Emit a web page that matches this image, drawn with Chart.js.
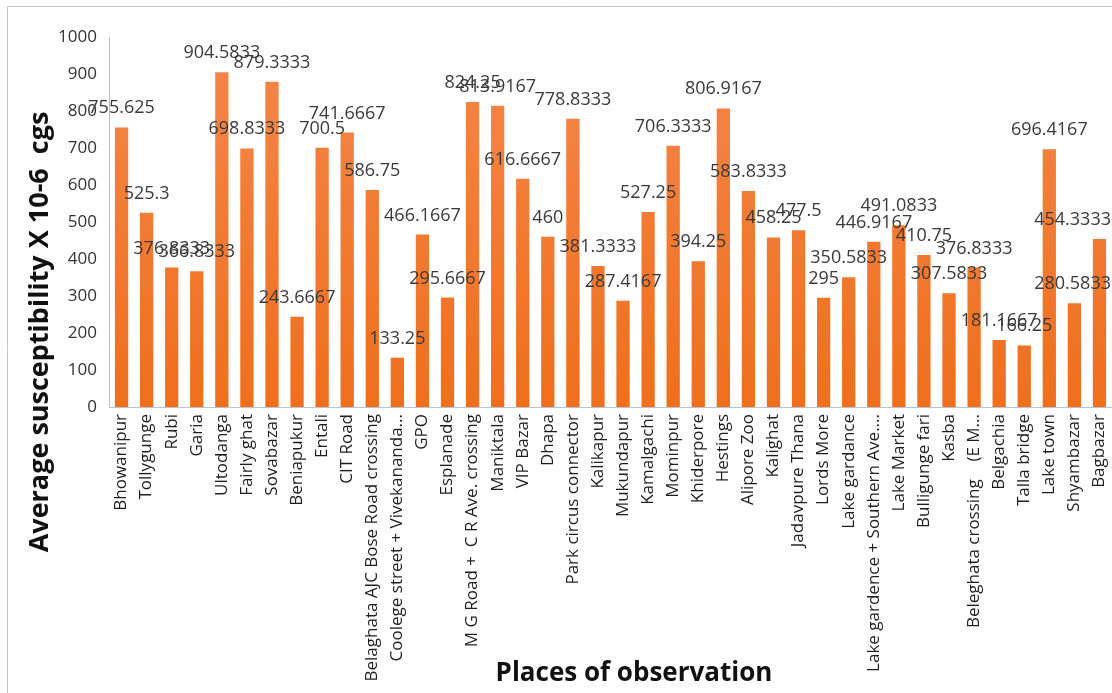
<!DOCTYPE html>
<html>
<head>
<meta charset="utf-8">
<title>Average susceptibility</title>
<script src="https://cdn.jsdelivr.net/npm/chart.js@4"></script>
<style>
  html, body { margin: 0; padding: 0; background: #fff; }
  #wrap { width: 1112px; height: 693px; position: relative; }
</style>
</head>
<body>
<div id="wrap"><canvas id="myChart"></canvas></div>
<script>
// places of observation and their average susceptibility (X 10-6 cgs)
var places = [
    'Bhowanipur', 'Tollygunge', 'Rubi', 'Garia', 'Ultodanga', 'Fairly ghat', 'Sovabazar',
    'Beniapukur', 'Entali', 'CIT Road', 'Belaghata AJC Bose Road crossing',
    'Coolege street + Vivekananda...', 'GPO', 'Esplanade', 'M G Road +  C R Ave. crossing',
    'Maniktala', 'VIP Bazar', 'Dhapa', 'Park circus connector', 'Kalikapur', 'Mukundapur',
    'Kamalgachi', 'Mominpur', 'Khiderpore', 'Hestings', 'Alipore Zoo', 'Kalighat',
    'Jadavpure Thana', 'Lords More', 'Lake gardance', 'Lake gardence + Southern Ave....',
    'Lake Market', 'Bulligunge fari', 'Kasba', 'Beleghata crossing    (E M...',
    'Belgachia', 'Talla bridge', 'Lake town', 'Shyambazar', 'Bagbazar'
];
var susceptibility = [
    755.625, 525.3, 376.8333, 366.8333, 904.5833, 698.8333, 879.3333,
    243.6667, 700.5, 741.6667, 586.75,
    133.25, 466.1667, 295.6667, 824.25,
    813.9167, 616.6667, 460, 778.8333, 381.3333, 287.4167,
    527.25, 706.3333, 394.25, 806.9167, 583.8333, 458.25,
    477.5, 295, 350.5833, 446.9167,
    491.0833, 410.75, 307.5833, 376.8333,
    181.1667, 166.25, 696.4167, 280.5833, 454.3333
];
var yTicks = [0, 100, 200, 300, 400, 500, 600, 700, 800, 900, 1000];

var FONT = "'Open Sans', 'Liberation Sans', sans-serif";

// value over each bar, axis titles and the outer frame
var extras = {
    id: 'extras',
    afterDatasetsDraw: function (chart) {
        var c = chart.ctx;
        var meta = chart.getDatasetMeta(0);
        c.save();
        c.fillStyle = '#3a3a3a';
        c.font = '18px ' + FONT;
        c.textAlign = 'center';
        c.textBaseline = 'alphabetic';
        meta.data.forEach(function (bar, i) {
            var txt = String(susceptibility[i]);
            var half = c.measureText(txt).width / 2;
            // keep the last labels inside the canvas
            var x = Math.min(bar.x, chart.width - half - 1);
            c.fillText(txt, x, bar.y - 14);
        });
        c.restore();
    },
    afterDraw: function (chart) {
        var c = chart.ctx;
        c.save();
        c.strokeStyle = '#c4c4c4';
        c.lineWidth = 1;
        c.beginPath();
        c.moveTo(7.5, 700);
        c.lineTo(7.5, 6.5);
        c.lineTo(1120, 6.5);
        c.stroke();

        c.fillStyle = '#111';
        c.font = 'bold 26px ' + FONT;
        c.textAlign = 'center';
        c.textBaseline = 'middle';
        c.fillText('Places of observation', 634, 674);

        c.font = 'bold 27px ' + FONT;
        c.translate(40, 332);
        c.rotate(-Math.PI / 2);
        c.fillText('Average susceptibility X 10-6  cgs', 0, 0);
        c.restore();
    }
};

var ctx = document.getElementById('myChart').getContext('2d');
var grad = ctx.createLinearGradient(0, 37, 0, 407);
grad.addColorStop(0, '#f4874c');
grad.addColorStop(1, '#ef6f1c');

var chart = new Chart(ctx, {
    type: 'bar',
    data: {
        labels: places,
        datasets: [{
            data: susceptibility,
            backgroundColor: grad,
            barPercentage: 0.53,
            categoryPercentage: 1.0
        }]
    },
    options: {
        responsive: true,
        maintainAspectRatio: false,
        animation: false,
        layout: { padding: { top: 37, left: 0, right: 0, bottom: 0 } },
        plugins: {
            legend: { display: false },
            tooltip: { enabled: false }
        },
        scales: {
            x: {
                grid: { display: false, drawTicks: false },
                border: { color: '#b9c3d3', width: 1 },
                ticks: {
                    autoSkip: false,
                    minRotation: 90,
                    maxRotation: 90,
                    padding: 7,
                    color: '#1e1e1e',
                    font: { family: FONT, size: 17 }
                },
                afterFit: function (scale) {
                    scale.height = 286;
                    // let the plot run to the right edge
                    scale.paddingLeft = 0;
                    scale.paddingRight = 0;
                }
            },
            y: {
                min: 0,
                max: 1000,
                afterBuildTicks: function (scale) {
                    scale.ticks = yTicks.map(function (v) { return { value: v }; });
                },
                grid: { display: false, drawTicks: false },
                border: { color: '#bfbfbf', width: 1 },
                ticks: {
                    padding: 12,
                    color: '#333',
                    font: { family: FONT, size: 17 },
                    callback: function (v) { return String(v); }
                },
                afterFit: function (scale) {
                    scale.width = 109;
                    scale.paddingTop = 0;
                    scale.paddingBottom = 0;
                }
            }
        }
    },
    plugins: [extras]
});
</script>
</body>
</html>
